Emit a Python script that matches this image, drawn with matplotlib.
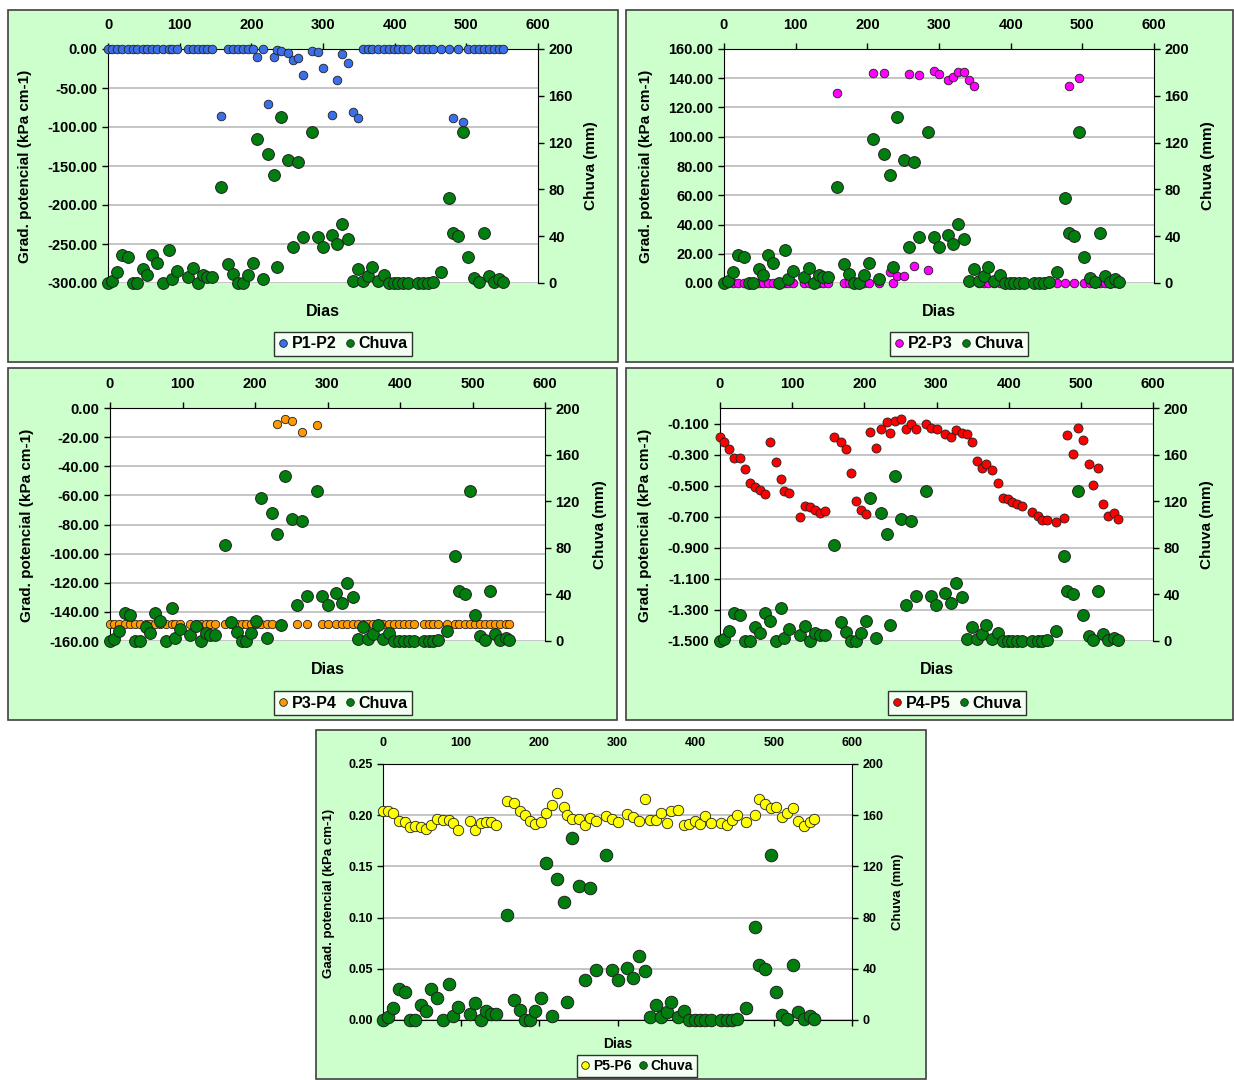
import matplotlib.pyplot as plt
from matplotlib.patches import Rectangle
from matplotlib.lines import Line2D
import numpy as np

plt.rcParams['font.family'] = ['Liberation Sans', 'DejaVu Sans']
plt.rcParams['font.weight'] = 'bold'

# dias de medicao
dias = [0, 6, 13, 20, 28, 35, 41, 49, 55, 62, 69, 77, 85, 89, 96, 111, 118, 125, 132, 138, 145,
        158, 167, 175, 182, 188, 195, 202, 208, 216, 223, 231, 236, 242, 251, 258, 265, 272, 285,
        293, 300, 312, 320, 327, 335, 342, 349, 356, 363, 369, 377, 385, 392, 399, 405, 412, 419,
        433, 440, 446, 453, 465, 476, 481, 489, 496, 503, 511, 517, 524, 531, 538, 546, 551]

# chuva (mm)
chuva = [0, 2, 9, 24, 22, 0, 0, 12, 7, 24, 17, 0, 28, 3, 10, 5, 13, 0, 7, 5, 5,
         82, 16, 8, 0, 0, 7, 17, 123, 3, 110, 92, 14, 142, 105, 31, 103, 39, 129,
         39, 31, 41, 33, 50, 38, 2, 12, 2, 6, 14, 2, 7, 0, 0, 0, 0, 0,
         0, 0, 0, 1, 9, 73, 43, 40, 129, 22, 4, 1, 43, 6, 1, 3, 1]

# gradientes de potencial (kPa cm-1)
p1p2 = [0, 0, 0, 0, 0, 0, 0, 0, 0, 0, 0, 0, 0, 0, 0, 0, 0, 0, 0, 0, 0,
        -86, 0, 0, 0, 0, 0, 0, -10, 0, -70, -10, -1, -3, -5, -14, -12, -33, -3,
        -4, -24, -84, -40, -7, -18, -81, -89, 0, 0, 0, 0, 0, 0, 0, 0, 0, 0,
        0, 0, 0, 0, 0, 0, -89, 0, -93, 0, 0, 0, 0, 0, 0, 0, 0]

p2p3 = [0, 0, 0, 0, 0, 0, 0, 0, 0, 0, 0, 0, 0, 0, 0, 0, 0, 0, 0, 0, 0,
        130, 0, 0, 0, 0, 0, 0, 143.3, 0, 143.3, 7.3, 0, 5, 5, 143, 11.5, 142, 8.7,
        145, 143, 139, 141, 144.4, 144, 139, 135, 0, 0, 0, 0, 0, 0, 0, 0, 0, 0,
        0, 0, 0, 0, 0, 0, 135, 0, 140.5, 0, 0, 0, 0, 0, 0, 0, 0]

p3p4 = [-148, -148, -148, -148, -148, -148, -148, -148, -148, -148, -148, -148, -148, -148,
        -148, -148, -148, -148, -148, -148, -148,
        -148, -148, -148, -148, -148, -148, -148, -148, -148, -148, -11, -148, -7.6, -8.7,
        -148, -16.7, -148, -11.7,
        -148, -148, -148, -148, -148, -148, -148, -148, -148, -148, -148, -148, -148, -148,
        -148, -148, -148, -148,
        -148, -148, -148, -148, -148, -148, -148, -148, -148, -148, -148, -148, -148, -148,
        -148, -148, -148]

p4p5 = [-0.186, -0.218, -0.266, -0.32, -0.32, -0.395, -0.48, -0.51, -0.525, -0.555, -0.216,
        -0.345, -0.46, -0.535, -0.55, -0.70, -0.63, -0.64, -0.655, -0.675, -0.665,
        -0.186, -0.216, -0.266, -0.42, -0.60, -0.655, -0.68, -0.154, -0.26, -0.132, -0.087,
        -0.162, -0.083, -0.068, -0.132, -0.104, -0.132, -0.10,
        -0.13, -0.132, -0.165, -0.186, -0.143, -0.158, -0.169, -0.216, -0.341, -0.389, -0.358,
        -0.40, -0.48, -0.578, -0.585, -0.604, -0.617, -0.632,
        -0.669, -0.697, -0.718, -0.718, -0.733, -0.707, -0.173, -0.298, -0.13, -0.208, -0.358,
        -0.496, -0.389, -0.621, -0.697, -0.679, -0.714]

p5p6 = [0.2044, 0.2044, 0.2025, 0.194, 0.193, 0.188, 0.189, 0.188, 0.1865, 0.19, 0.196,
        0.1953, 0.1953, 0.192, 0.1855, 0.1947, 0.186, 0.1927, 0.193, 0.193, 0.1904,
        0.214, 0.212, 0.2044, 0.200, 0.1947, 0.1914, 0.1937, 0.2018, 0.21, 0.222, 0.2077,
        0.200, 0.196, 0.1963, 0.190, 0.1976, 0.1947, 0.1995,
        0.196, 0.1937, 0.2008, 0.1986, 0.1947, 0.2155, 0.1953, 0.1953, 0.2018, 0.1927, 0.2044,
        0.205, 0.1904, 0.1914, 0.1943, 0.1914, 0.1992, 0.1927,
        0.1927, 0.1904, 0.1953, 0.2002, 0.1937, 0.2002, 0.2155, 0.211, 0.2074, 0.2083, 0.198,
        0.2025, 0.2067, 0.1947, 0.189, 0.193, 0.196]

W, H = 1234, 1080
fig = plt.figure(figsize=(W / 100, H / 100), dpi=100)
verde = '#007F0E'


def box(x0, y0, x1, y1):
    return [x0 / W, 1 - y1 / H, (x1 - x0) / W, (y1 - y0) / H]


paineis = [
    dict(serie=p1p2, nome='P1-P2', cor='#3B6FEA', ylim=(-300, 0), yt=np.arange(-300, 1, 50), fmt='%.2f',
         frame=(8, 10, 618, 362), plot=(108, 49, 538, 283), leg=(343, 344), dias=(323, 311),
         yl=(25, 166), yr=(591, 166), lab='Grad. potencial (kPa cm-1)', fs=10.5, fl=11, ms=8.5, ms2=6.2, pad=8),
    dict(serie=p2p3, nome='P2-P3', cor='#FF00FF', ylim=(0, 160), yt=np.arange(0, 161, 20), fmt='%.2f',
         frame=(626, 10, 1233, 362), plot=(724, 49, 1154, 283), leg=(959, 344), dias=(939, 311),
         yl=(646, 166), yr=(1208, 166), lab='Grad. potencial (kPa cm-1)', fs=10.5, fl=11, ms=8.5, ms2=6.2, pad=8),
    dict(serie=p3p4, nome='P3-P4', cor='#FF9900', ylim=(-160, 0), yt=np.arange(-160, 1, 20), fmt='%.2f',
         frame=(8, 368, 617, 720), plot=(110, 408, 545, 641), leg=(343, 703), dias=(328, 670),
         yl=(27, 525), yr=(600, 525), lab='Grad. potencial (kPa cm-1)', fs=10.5, fl=11, ms=8.5, ms2=6, pad=8),
    dict(serie=p4p5, nome='P4-P5', cor='#FF0000', ylim=(-1.5, 0), yt=np.arange(-1.5, -0.05, 0.2), fmt='%.3f',
         frame=(626, 368, 1233, 720), plot=(720, 408, 1153, 641), leg=(957, 703), dias=(937, 670),
         yl=(645, 525), yr=(1207, 525), lab='Grad. potencial (kPa cm-1)', fs=10.5, fl=11, ms=8.5, ms2=6.5, pad=8),
    dict(serie=p5p6, nome='P5-P6', cor='#FFFF00', ylim=(0, 0.25), yt=np.arange(0, 0.26, 0.05), fmt='%.2f',
         frame=(316, 730, 926, 1079), plot=(383, 764, 852, 1020), leg=(637, 1066), dias=(618, 1044),
         yl=(329, 893), yr=(898, 892), lab='Gaad. potencial (kPa cm-1)', fs=9, fl=9.5, ms=9, ms2=7.5, pad=7),
]

for i, p in enumerate(paineis):
    x0, y0, x1, y1 = p['frame']
    fig.patches.append(Rectangle((x0 / W, 1 - y1 / H), (x1 - x0) / W, (y1 - y0) / H,
                                 transform=fig.transFigure, facecolor='#CCFFCC',
                                 edgecolor='#404040', linewidth=1.2, zorder=-5))
    ax = fig.add_axes(box(*p['plot']))
    ax.set_facecolor('white')
    ax.scatter(dias, p['serie'], s=p['ms2'] ** 2, color=p['cor'], edgecolor='#202020',
               linewidth=0.6, clip_on=False, zorder=3)
    ax.set_xlim(0, 600)
    ax.set_xticks(range(0, 601, 100))
    ax.xaxis.tick_top()
    ax.set_ylim(*p['ylim'])
    ax.set_yticks(p['yt'])
    ax.set_yticklabels([p['fmt'] % v for v in p['yt']])
    ax.yaxis.grid(True, color='#C0C0C0', linewidth=1.3)
    ax.set_axisbelow(True)
    ax.tick_params(axis='both', labelsize=p['fs'], direction='out', length=4, width=1)
    ax.tick_params(axis='x', pad=p['pad'])
    ax.spines['right'].set_visible(False)
    if i == 4:
        ax.spines['bottom'].set_color('black')
        ax.tick_params(axis='x', bottom=True, top=False)
    else:
        ax.spines['bottom'].set_visible(False)

    ax2 = ax.twinx()
    ax2.scatter(dias, chuva, s=p['ms'] ** 2, color=verde, edgecolor='#202020',
                linewidth=0.7, clip_on=False, zorder=4)
    ax2.set_ylim(0, 200)
    ax2.set_yticks(range(0, 201, 40))
    ax2.tick_params(axis='y', labelsize=p['fs'], direction='out', length=4, width=1)
    for s in ['top', 'bottom', 'left']:
        ax2.spines[s].set_visible(False)

    fsl = p['fl']
    fig.text(p['yl'][0] / W, 1 - p['yl'][1] / H, p['lab'], rotation=90, ha='center', va='center',
             fontsize=fsl)
    fig.text(p['yr'][0] / W, 1 - p['yr'][1] / H, 'Chuva (mm)', rotation=90, ha='center', va='center',
             fontsize=fsl)
    fig.text(p['dias'][0] / W, 1 - p['dias'][1] / H, 'Dias', ha='center', va='center', fontsize=fsl + 0.5)

    handles = [Line2D([], [], marker='o', linestyle='none', markersize=5.5, markerfacecolor=p['cor'],
                      markeredgecolor='#202020', markeredgewidth=0.6),
               Line2D([], [], marker='o', linestyle='none', markersize=5.5, markerfacecolor=verde,
                      markeredgecolor='#202020', markeredgewidth=0.6)]
    leg = fig.legend(handles, [p['nome'], 'Chuva'], loc='center',
                     bbox_to_anchor=(p['leg'][0] / W, 1 - p['leg'][1] / H), ncol=2,
                     fontsize=fsl + 0.5, frameon=True, fancybox=False, borderpad=0.3,
                     handlelength=0.6, handletextpad=0.25, columnspacing=0.5)
    leg.get_frame().set_edgecolor('black')
    leg.get_frame().set_linewidth(1.0)

fig.savefig('out.png', dpi=100)
